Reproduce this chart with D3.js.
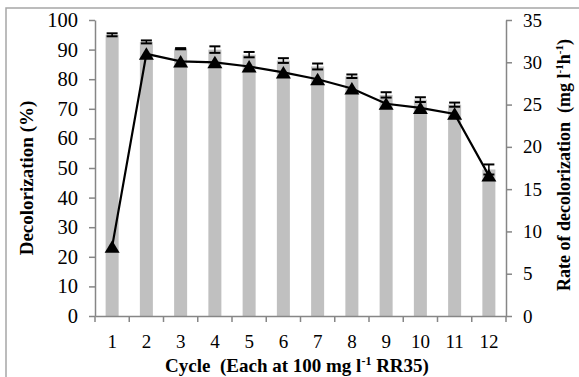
<!DOCTYPE html>
<html><head><meta charset="utf-8">
<script src="https://cdn.jsdelivr.net/npm/d3@7"></script>
<style>body{margin:0;background:#fff}svg{display:block}text{white-space:pre}</style>
</head><body>
<script>
const cycles = [1,2,3,4,5,6,7,8,9,10,11,12];
const decolor = [95.0, 92.6, 90.3, 90.0, 88.3, 86.3, 84.3, 81.0, 74.7, 73.1, 71.4, 49.5];
const decolorErr = [0.5, 0.5, 0.2, 1.1, 0.9, 0.8, 1.0, 0.6, 0.9, 0.8, 0.7, 1.7];
const rate = [8.2, 31.0, 30.1, 30.0, 29.5, 28.8, 28.0, 26.9, 25.1, 24.6, 23.9, 16.6];
const leftTicks = [0,10,20,30,40,50,60,70,80,90,100];
const rightTicks = [0,5,10,15,20,25,30,35];

const W=579,H=377;
const L=95,R=506,T=20,B=316;
const axisCol="#868686";
const font="'Liberation Serif','Times New Roman',serif";

const svg=d3.select("body").append("svg").attr("width",W).attr("height",H);
svg.append("rect").attr("x",6).attr("y",8).attr("width",W+20).attr("height",H+20)
  .attr("fill","#fff").attr("stroke","#a6a6a6").attr("stroke-width",1.5);

const x=d3.scaleBand().domain(cycles).range([L,R]).paddingInner(0.62).paddingOuter(0.31);
const step=x.step();
const yL=d3.scaleLinear().domain([0,100]).range([B,T]);
const yR=d3.scaleLinear().domain([0,35]).range([B,T]);

// bars
svg.append("g").selectAll("rect").data(cycles).join("rect")
  .attr("x",d=>x(d)).attr("width",x.bandwidth())
  .attr("y",(d,i)=>yL(decolor[i])).attr("height",(d,i)=>B-yL(decolor[i]))
  .attr("fill","#c0c0c0");

// axes
const gL=svg.append("g").attr("transform",`translate(${L},0)`)
  .call(d3.axisLeft(yL).tickValues(leftTicks).tickSize(6).tickSizeOuter(0).tickPadding(11));
const gR=svg.append("g").attr("transform",`translate(${R},0)`)
  .call(d3.axisRight(yR).tickValues(rightTicks).tickSize(6).tickSizeOuter(0).tickPadding(11));
const gX=svg.append("g").attr("transform",`translate(0,${B})`)
  .call(d3.axisBottom(x).tickSize(0).tickSizeOuter(0).tickPadding(19));
[gL,gR,gX].forEach(g=>{
  g.selectAll("path.domain").attr("stroke",axisCol).attr("stroke-width",1.5);
  g.selectAll(".tick line").attr("stroke",axisCol).attr("stroke-width",1.5);
  g.selectAll("text").attr("font-family",font).attr("font-size",19).attr("fill","#000");
});
gL.selectAll("text").attr("font-size",20.5);
// x boundary ticks
const bounds=d3.range(cycles.length+1).map(i=>L+i*step);
svg.append("g").selectAll("line").data(bounds).join("line")
  .attr("x1",d=>d).attr("x2",d=>d).attr("y1",B).attr("y2",B+6)
  .attr("stroke",axisCol).attr("stroke-width",1.5);

// error bars
const eb=svg.append("g").attr("stroke","#000");
cycles.forEach((c,i)=>{
  const cx=x(c)+x.bandwidth()/2;
  const y1=yL(decolor[i]+decolorErr[i]), y2=yL(decolor[i]-decolorErr[i]);
  eb.append("line").attr("x1",cx).attr("x2",cx).attr("y1",y1).attr("y2",y2).attr("stroke-width",1.5);
  eb.append("line").attr("x1",cx-5.5).attr("x2",cx+5.5).attr("y1",y1).attr("y2",y1).attr("stroke-width",2);
  eb.append("line").attr("x1",cx-5.5).attr("x2",cx+5.5).attr("y1",y2).attr("y2",y2).attr("stroke-width",2);
});

// line
const line=d3.line().x((d,i)=>x(cycles[i])+x.bandwidth()/2).y(d=>yR(d));
svg.append("path").datum(rate).attr("d",line).attr("fill","none").attr("stroke","#000").attr("stroke-width",2.2);
svg.append("g").selectAll("path").data(rate).join("path")
  .attr("transform",(d,i)=>`translate(${x(cycles[i])+x.bandwidth()/2},${yR(d)})`)
  .attr("d","M0,-6.5L7.5,6L-7.5,6Z").attr("fill","#000");

// titles
svg.append("text").attr("transform","translate(33,178) rotate(-90)")
  .attr("text-anchor","middle").attr("font-family",font).attr("font-weight","bold").attr("font-size",19)
  .text("Decolorization (%)");
const rt=svg.append("text").attr("transform","translate(570,165) rotate(-90)")
  .attr("text-anchor","middle").attr("font-family",font).attr("font-weight","bold").attr("font-size",18);
rt.append("tspan").text("Rate of decolorization  (mg l");
rt.append("tspan").attr("font-size",11).attr("dy",-7).text("-1");
rt.append("tspan").attr("dy",7).text("h");
rt.append("tspan").attr("font-size",11).attr("dy",-7).text("-1");
rt.append("tspan").attr("dy",7).text(")");
const xt=svg.append("text").attr("x",297).attr("y",372)
  .attr("text-anchor","middle").attr("font-family",font).attr("font-weight","bold").attr("font-size",19);
xt.append("tspan").text("Cycle  (Each at 100 mg l");
xt.append("tspan").attr("font-size",12).attr("dy",-7).text("-1");
xt.append("tspan").attr("dy",7).text(" RR35)");
</script>
</body></html>
